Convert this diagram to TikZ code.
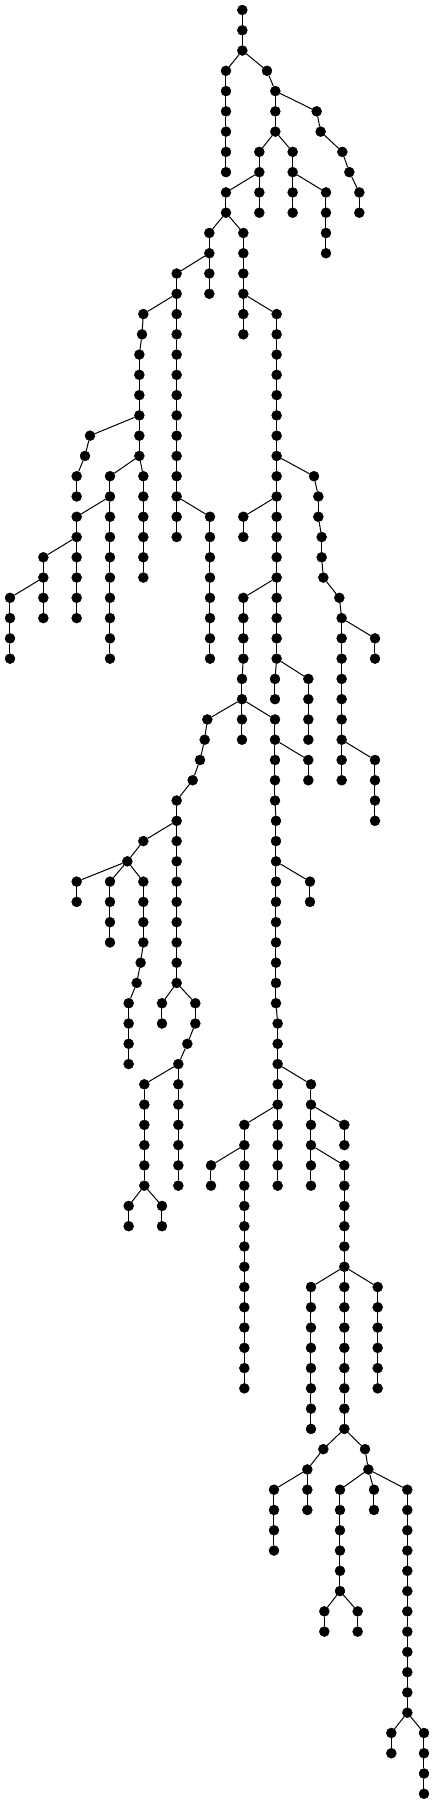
\documentclass[tikz,border=0pt]{standalone}
\tikzset{
  vdot/.style={circle, fill=black, draw=black, inner sep=0pt, minimum size=10pt},
  link/.style={draw=black, line width=1pt}
}
\newcommand\vtx[2]{\node[vdot] (n#1x#2) at (#2,#1) {};}
\newcommand\edg[4]{\draw[link] (n#1x#2) -- (n#3x#4);}
\newcommand\chainv[3]{%
  \foreach \r in {#2,...,#3}{\node[vdot] (n\r x#1) at (#1,\r) {};}%
  \foreach \r [remember=\r as \p (initially #2)] in {#2,...,#3}{\ifnum\r>#2\relax\draw[link] (n\p x#1) -- (n\r x#1);\fi}%
}
\begin{document}
\begin{tikzpicture}[x=0.33333pt,y=-20.27pt]
\useasboundingbox (0pt,0pt) rectangle (435pt,-1804pt);
\begin{scope}[yshift=-10pt]
\chainv{727}{0}{2}
\chainv{678}{3}{8} \edg{2}{727}{3}{678}
\vtx{3}{801} \edg{2}{727}{3}{801}
\chainv{826}{4}{6} \edg{3}{801}{4}{826}
\vtx{5}{950} \edg{4}{826}{5}{950}
\vtx{6}{962} \edg{5}{950}{6}{962}
\vtx{7}{1027} \edg{6}{962}{7}{1027}
\vtx{8}{1048} \edg{7}{1027}{8}{1048}
\chainv{1078}{9}{10} \edg{8}{1048}{9}{1078}
\chainv{778}{7}{10} \edg{6}{826}{7}{778}
\chainv{878}{7}{10} \edg{6}{826}{7}{878}
\chainv{978}{9}{12} \edg{8}{878}{9}{978}
\chainv{678}{9}{10} \edg{8}{778}{9}{678}
\chainv{628}{11}{14} \edg{10}{678}{11}{628}
\chainv{730}{11}{16} \edg{10}{678}{11}{730}
\chainv{530}{13}{26} \edg{12}{628}{13}{530}
\vtx{15}{430} \edg{14}{530}{15}{430}
\vtx{16}{426} \edg{15}{430}{16}{426}
\chainv{418}{17}{22} \edg{16}{426}{17}{418}
\vtx{21}{270} \edg{20}{418}{21}{270}
\vtx{22}{255} \edg{21}{270}{22}{255}
\chainv{230}{23}{24} \edg{22}{255}{23}{230}
\chainv{330}{23}{32} \edg{22}{418}{23}{330}
\chainv{230}{25}{30} \edg{24}{330}{25}{230}
\chainv{130}{27}{30} \edg{26}{230}{27}{130}
\chainv{30}{29}{32} \edg{28}{130}{29}{30}
\chainv{430}{23}{28} \edg{22}{418}{23}{430}
\chainv{630}{25}{32} \edg{24}{530}{25}{630}
\chainv{830}{15}{32} \edg{14}{730}{15}{830}
\vtx{23}{942} \edg{22}{830}{23}{942}
\chainv{955}{24}{25} \edg{23}{942}{24}{955}
\chainv{965}{26}{27} \edg{25}{955}{26}{965}
\vtx{28}{970} \edg{27}{965}{28}{970}
\vtx{29}{1018} \edg{28}{970}{29}{1018}
\chainv{1025}{30}{38} \edg{29}{1018}{30}{1025}
\chainv{1125}{31}{32} \edg{30}{1025}{31}{1125}
\chainv{1125}{37}{40} \edg{36}{1025}{37}{1125}
\chainv{730}{25}{26} \edg{24}{830}{25}{730}
\chainv{730}{29}{32} \edg{28}{830}{29}{730}
\chainv{726}{33}{36} \edg{32}{730}{33}{726}
\chainv{825}{33}{34} \edg{32}{830}{33}{825}
\chainv{925}{33}{36} \edg{32}{830}{33}{925}
\chainv{825}{35}{39} \edg{34}{726}{35}{825}
\chainv{925}{37}{38} \edg{36}{825}{37}{925}
\chainv{828}{40}{49} \edg{39}{825}{40}{828}
\chainv{930}{43}{44} \edg{42}{828}{43}{930}
\chainv{833}{50}{58} \edg{49}{828}{50}{833}
\vtx{35}{622} \edg{34}{726}{35}{622}
\vtx{36}{614} \edg{35}{622}{36}{614}
\vtx{37}{600} \edg{36}{614}{37}{600}
\vtx{38}{578} \edg{37}{600}{38}{578}
\chainv{530}{39}{48} \edg{38}{578}{39}{530}
\vtx{41}{430} \edg{40}{530}{41}{430}
\vtx{42}{382} \edg{41}{430}{42}{382}
\chainv{230}{43}{44} \edg{42}{382}{43}{230}
\chainv{330}{43}{46} \edg{42}{382}{43}{330}
\chainv{430}{43}{46} \edg{42}{382}{43}{430}
\vtx{47}{422} \edg{46}{430}{47}{422}
\vtx{48}{410} \edg{47}{422}{48}{410}
\chainv{386}{49}{52} \edg{48}{410}{49}{386}
\chainv{486}{49}{50} \edg{48}{530}{49}{486}
\chainv{586}{49}{50} \edg{48}{530}{49}{586}
\vtx{51}{562} \edg{50}{586}{51}{562}
\chainv{535}{52}{58} \edg{51}{562}{52}{535}
\chainv{433}{53}{58} \edg{52}{535}{53}{433}
\chainv{386}{59}{60} \edg{58}{433}{59}{386}
\chainv{486}{59}{60} \edg{58}{433}{59}{486}
\chainv{933}{53}{58} \edg{52}{833}{53}{933}
\chainv{1033}{55}{56} \edg{54}{933}{55}{1033}
\chainv{1033}{57}{70} \edg{56}{933}{57}{1033}
\chainv{733}{55}{68} \edg{54}{833}{55}{733}
\chainv{633}{57}{58} \edg{56}{733}{57}{633}
\chainv{933}{63}{70} \edg{62}{1033}{63}{933}
\chainv{1133}{63}{68} \edg{62}{1033}{63}{1133}
\vtx{71}{970} \edg{70}{1033}{71}{970}
\chainv{922}{72}{74} \edg{71}{970}{72}{922}
\chainv{822}{73}{76} \edg{72}{922}{73}{822}
\vtx{71}{1095} \edg{70}{1033}{71}{1095}
\vtx{72}{1105} \edg{71}{1095}{72}{1105}
\chainv{1020}{73}{78} \edg{72}{1105}{73}{1020}
\chainv{973}{79}{80} \edg{78}{1020}{79}{973}
\chainv{1073}{79}{80} \edg{78}{1020}{79}{1073}
\chainv{1122}{73}{74} \edg{72}{1105}{73}{1122}
\chainv{1222}{73}{84} \edg{72}{1105}{73}{1222}
\chainv{1174}{85}{86} \edg{84}{1222}{85}{1174}
\chainv{1272}{85}{88} \edg{84}{1222}{85}{1272}
\end{scope}
\end{tikzpicture}
\end{document}
